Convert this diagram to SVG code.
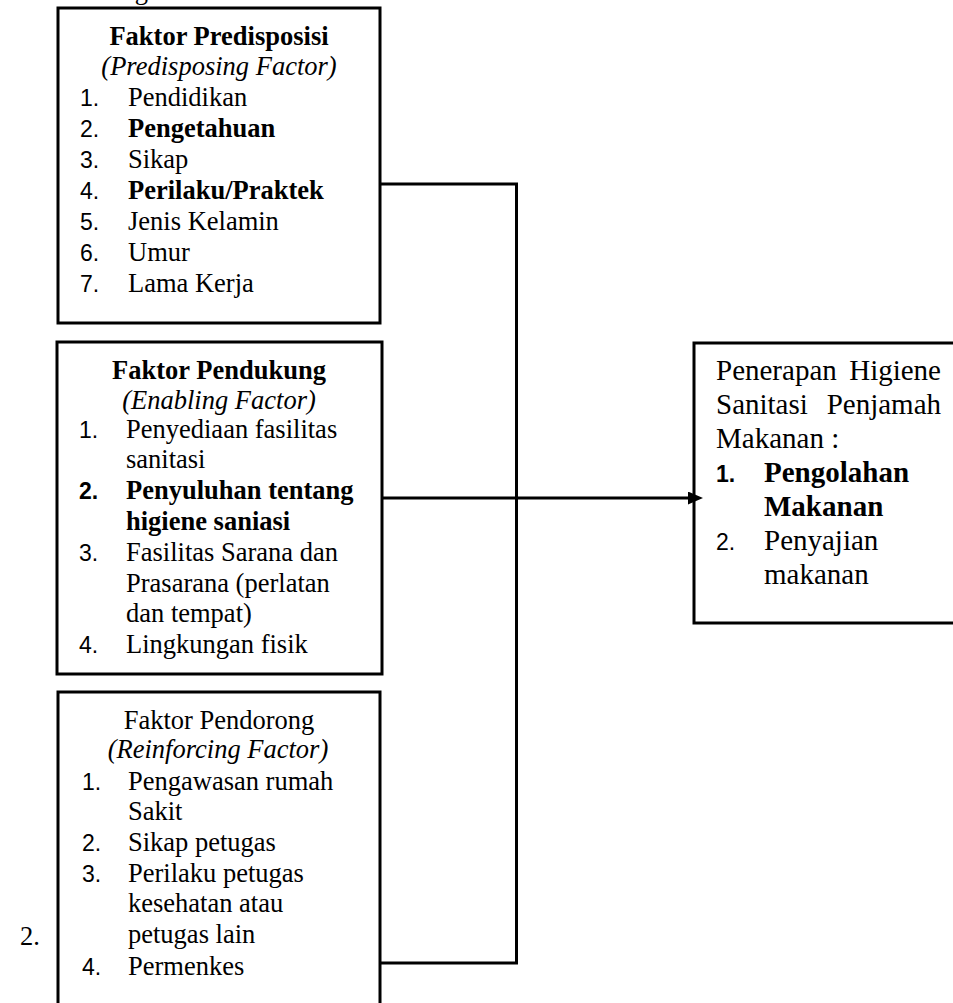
<svg xmlns="http://www.w3.org/2000/svg" width="953" height="1003" viewBox="0 0 953 1003">
<style>
.t{font-family:"Liberation Serif","Times New Roman",serif;font-size:26.5px;fill:#000}
.r{font-size:29px}
.b{font-weight:bold}
.i{font-style:italic}
.n{font-family:"Liberation Sans",Arial,sans-serif;font-size:23px;fill:#000}
.c{text-anchor:middle}
.box{fill:#fff;stroke:#000;stroke-width:3}
.conn{fill:none;stroke:#000;stroke-width:3}
</style>
<defs>
<marker id="arr" markerUnits="userSpaceOnUse" markerWidth="15" markerHeight="13" refX="2" refY="6.5" orient="auto">
<path d="M0 0 L15 6.5 L0 13 Z" fill="#000"/>
</marker>
</defs>
<rect width="953" height="1003" fill="#fff"/>
<text class="t" x="148" y="-1" text-anchor="end">ng</text>
<g id="predisposing">
<rect class="box" x="58" y="8" width="322" height="315"/>
<text class="t b c" x="219" y="45">Faktor Predisposisi</text>
<text class="t i c" x="219" y="75">(Predisposing Factor)</text>
<text class="n" x="80" y="106">1.</text><text class="t" x="128" y="106">Pendidikan</text>
<text class="n" x="80" y="137">2.</text><text class="t b" x="128" y="137">Pengetahuan</text>
<text class="n" x="80" y="168">3.</text><text class="t" x="128" y="168">Sikap</text>
<text class="n" x="80" y="199">4.</text><text class="t b" x="128" y="199">Perilaku/Praktek</text>
<text class="n" x="80" y="230">5.</text><text class="t" x="128" y="230">Jenis Kelamin</text>
<text class="n" x="80" y="261">6.</text><text class="t" x="128" y="261">Umur</text>
<text class="n" x="80" y="292">7.</text><text class="t" x="128" y="292">Lama Kerja</text>
</g>
<g id="enabling">
<rect class="box" x="57" y="342" width="325" height="332"/>
<text class="t b c" x="219" y="379">Faktor Pendukung</text>
<text class="t i c" x="219" y="409">(Enabling Factor)</text>
<text class="n" x="79" y="438">1.</text><text class="t" x="126" y="438">Penyediaan fasilitas</text>
<text class="t" x="126" y="468">sanitasi</text>
<text class="n b" x="79" y="499">2.</text><text class="t b" x="126" y="499">Penyuluhan tentang</text>
<text class="t b" x="126" y="530">higiene saniasi</text>
<text class="n" x="79" y="561">3.</text><text class="t" x="126" y="561">Fasilitas Sarana dan</text>
<text class="t" x="126" y="592">Prasarana (perlatan</text>
<text class="t" x="126" y="622">dan tempat)</text>
<text class="n" x="79" y="653">4.</text><text class="t" x="126" y="653">Lingkungan fisik</text>
</g>
<g id="reinforcing">
<rect class="box" x="58" y="692" width="322" height="330"/>
<text class="t c" x="219" y="729">Faktor Pendorong</text>
<text class="t i c" x="218" y="758">(Reinforcing Factor)</text>
<text class="n" x="82" y="790">1.</text><text class="t" x="128" y="790">Pengawasan rumah</text>
<text class="t" x="128" y="820">Sakit</text>
<text class="n" x="82" y="851">2.</text><text class="t" x="128" y="851">Sikap petugas</text>
<text class="n" x="82" y="882">3.</text><text class="t" x="128" y="882">Perilaku petugas</text>
<text class="t" x="128" y="912">kesehatan atau</text>
<text class="t" x="128" y="943">petugas lain</text>
<text class="n" x="82" y="975">4.</text><text class="t" x="128" y="975">Permenkes</text>
</g>
<g id="outcome">
<rect class="box" x="694" y="343" width="270" height="280"/>
<text class="t r" x="716" y="380">Penerapan</text><text class="t r" x="941" y="380" text-anchor="end">Higiene</text>
<text class="t r" x="716" y="414">Sanitasi</text><text class="t r" x="941" y="414" text-anchor="end">Penjamah</text>
<text class="t r" x="716" y="448">Makanan :</text>
<text class="n b" x="716" y="482">1.</text><text class="t r b" x="764" y="482">Pengolahan</text>
<text class="t r b" x="764" y="516">Makanan</text>
<text class="n" x="716" y="550">2.</text><text class="t r" x="764" y="550">Penyajian</text>
<text class="t r" x="764" y="584">makanan</text>
</g>
<text class="t" x="20" y="945">2.</text>
<g id="connectors">
<path class="conn" d="M380 184 H516.5 V963 H380"/>
<path class="conn" d="M382 498 H690" marker-end="url(#arr)"/>
</g>
</svg>
